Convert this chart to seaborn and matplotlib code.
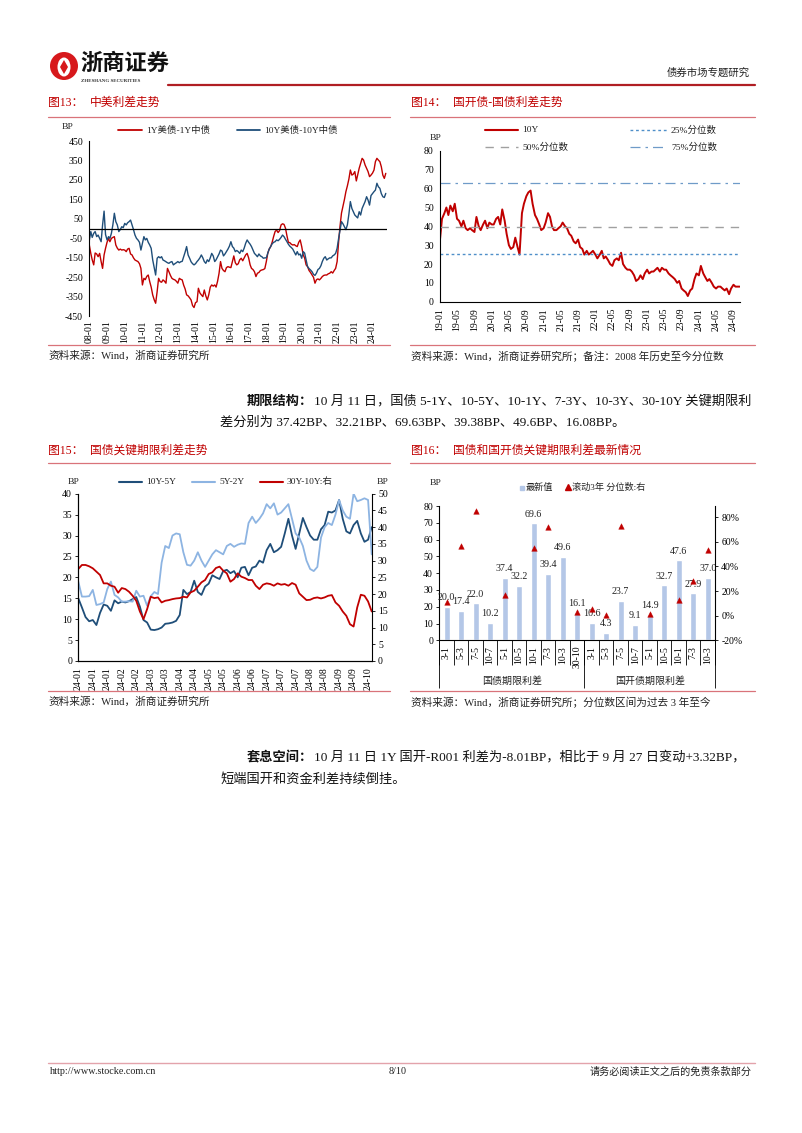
import numpy as np
import pandas as pd
import matplotlib
matplotlib.use('Agg')
import matplotlib.pyplot as plt
import seaborn as sns
from matplotlib.lines import Line2D
from matplotlib.patches import Ellipse, Polygon
import matplotlib.dates as mdates
import matplotlib.transforms as mtransforms
import matplotlib.ticker as mticker

# ---------------- data ----------------
# Fig 13: monthly, 2008-01 .. 2024-10
us_cn_1y = [
    -84, -127, -160, -186, -125, -130, -144, -127, -169, -204, -135, -101,
    -70, -50, -67, -50, -45, -41, -84, -100, -110, -105, -110, -108,
    -110, -118, -105, -101, -130, -135, -150, -161, -165, -169, -180, -204,
    -289, -255, -262, -245, -238, -272, -300, -340, -365, -383, -323, -255,
    -272, -275, -263, -270, -280, -204, -221, -240, -255, -260, -263, -270,
    -280, -255, -260, -263, -290, -310, -340, -345, -355, -366, -395, -405,
    -380, -375, -306, -330, -340, -349, -315, -345, -366, -340, -300, -289,
    -295, -289, -300, -270, -230, -169, -204, -215, -221, -200, -195, -198,
    -200, -169, -140, -175, -186, -180, -160, -152, -165, -150, -135, -127,
    -150, -186, -204, -210, -221, -246, -229, -225, -215, -212, -210, -205,
    -169, -125, -105, -92, -70, -40, -15, -7, -20, -10, 19, 25,
    22, 2, -35, -70, -72, -80, -84, -82, -88, -92, -70, -58,
    -92, -135, -150, -186, -195, -215, -225, -238, -250, -280, -262, -258,
    -263, -255, -246, -240, -238, -238, -232, -229, -221, -228, -215, -204,
    -169, -67, 10, 80, 115, 150, 190, 220, 255, 301, 275, 280,
    293, 245, 275, 310, 335, 361, 352, 327, 310, 293, 267, 275,
    285, 301, 344, 361, 352, 344, 318, 275, 258, 284]
us_cn_10y = [
    -60, -15, -45, -24, -15, -41, -33, -50, -67, 19, 90, -30,
    -58, -41, -50, -24, 19, 79, 36, 19, -15, -5, 10, 5,
    27, 19, 30, 36, 44, 19, -5, -33, -50, -58, -70, -110,
    -75, -41, -58, -50, -70, -84, -101, -160, -200, -238, -152, -144,
    -150, -144, -161, -165, -170, -175, -178, -172, -169, -186, -180, -175,
    -169, -175, -170, -168, -145, -120, -92, -135, -152, -170, -180, -186,
    -180, -169, -161, -150, -135, -150, -169, -178, -160, -169, -150, -127,
    -140, -169, -160, -145, -130, -110, -115, -140, -130, -118, -105, -90,
    -67, -92, -100, -118, -112, -118, -127, -110, -118, -100, -75, -58,
    -70, -80, -92, -110, -127, -135, -144, -130, -140, -144, -152, -150,
    -150, -125, -105, -92, -78, -70, -67, -58, -62, -55, -45, -33,
    -41, -55, -66, -80, -90, -97, -105, -120, -135, -118, -135, -130,
    -152, -118, -125, -160, -195, -205, -212, -221, -235, -240, -228, -210,
    -204, -190, -169, -152, -144, -161, -155, -150, -150, -140, -135, -127,
    -101, -50, -10, 36, 25, 10, -5, 20, 75, 139, 104, 87,
    70, 62, 55, 87, 70, 104, 121, 139, 164, 147, 121, 170,
    180, 190, 198, 233, 215, 207, 180, 164, 160, 181]

# Fig 14: semi-monthly, 2019-01 .. 2024-10
cdb_gov_10y = [
    33, 44, 47, 50, 46, 51, 48, 52, 44, 43, 40, 43, 39, 38, 39, 38, 37, 45, 40, 38, 41, 43, 39, 42,
    41, 41, 44, 45, 41, 49, 43, 36, 30, 28, 29, 34, 29, 25, 47, 52, 56, 58, 59, 52, 46, 44, 41, 38,
    39, 42, 47, 45, 40, 38, 38, 39, 40, 42, 40, 39, 36, 35, 32, 31, 33, 29, 28, 25, 27, 25, 26, 27,
    25, 23, 25, 27, 23, 24, 22, 20, 19, 22, 23, 22, 26, 20, 18, 17, 17, 16, 14, 11, 12, 14, 12, 15,
    17, 15, 16, 16, 17, 18, 16, 18, 17, 17, 15, 14, 13, 12, 10, 11, 7, 6, 5, 3, 6, 7, 12, 15,
    14, 19, 15, 13, 11, 12, 10, 8, 7, 8, 8, 7, 6, 7, 4, 7, 9, 8, 8, 8]
pct25, pct50, pct75 = 25.3, 39.6, 62.8

# Fig 15: 2024-01 .. 2024-10
tick_labels15 = ['24-01', '24-01', '24-01', '24-02', '24-02', '24-03', '24-03', '24-04', '24-04',
                 '24-05', '24-05', '24-06', '24-06', '24-07', '24-07', '24-07', '24-08', '24-08',
                 '24-09', '24-09', '24-10']
sp_10_5 = [15.0, 12.8, 10.5, 9.5, 9.8, 8.6, 11.5, 13.5, 13.2, 12.0,
           14.5, 13.8, 14.2, 14.0, 14.3, 14.8, 15.3, 13.0, 9.8, 9.2,
           7.5, 7.4, 7.6, 8.0, 8.9, 9.0, 9.2, 9.6, 11.0, 17.0,
           16.0, 16.5, 19.2, 16.5, 15.8, 17.8, 18.5, 20.5, 20.0, 19.6,
           21.5, 21.8, 21.0, 21.5, 20.0, 22.3, 22.5, 20.5, 22.3, 22.6,
           24.0, 23.5, 26.5, 28.0, 26.0, 26.5, 27.3, 30.5, 34.0, 30.0,
           26.8, 30.5, 34.2, 32.0, 30.0, 29.0, 29.0, 31.5, 32.5, 35.7,
           35.5, 36.0, 38.5, 34.0, 31.0, 30.5, 32.5, 33.5, 30.5, 28.5,
           29.0, 32.0]
sp_5_2 = [19.0, 15.4, 15.4, 15.5, 17.0, 13.4, 13.6, 14.0, 17.2, 19.0,
          15.8, 15.2, 14.2, 14.2, 14.3, 14.2, 16.8, 15.4, 15.6, 13.2,
          15.5, 16.5, 16.0, 23.5, 27.5, 27.0, 30.0, 30.5, 30.3, 26.0,
          23.0, 22.8, 24.0, 26.0, 24.0, 22.5, 24.0, 25.5, 26.5, 26.0,
          25.5, 27.5, 28.0, 27.3, 27.8, 28.1, 28.0, 33.0, 34.5, 33.0,
          34.0, 35.3, 37.5, 36.5, 37.7, 35.0, 35.5, 36.5, 37.5, 34.0,
          30.5, 29.5, 27.5, 24.0, 22.0, 21.5, 22.5, 29.5, 32.0, 33.0,
          32.5, 35.0, 38.5, 36.0, 34.5, 34.0, 40.0, 38.2, 38.5, 38.9,
          38.5, 25.5]
sp_30_10 = [27.5, 28.7, 28.7, 28.3, 27.7, 26.7, 25.7, 23.2, 23.2, 22.5,
            22.2, 20.4, 21.8, 21.5, 20.7, 19.5, 18.0, 14.8, 12.5, 15.5,
            19.2, 18.8, 19.0, 17.5, 18.0, 18.2, 18.5, 18.7, 18.8, 19.2,
            19.0, 20.5, 21.0, 22.2, 23.5, 24.2, 26.0, 26.5, 27.8, 28.2,
            27.0, 26.2, 23.7, 24.5, 26.2, 25.2, 24.8, 24.2, 24.2, 22.5,
            21.5, 22.8, 23.2, 23.0, 22.5, 23.2, 22.8, 23.0, 22.5, 23.3,
            22.8, 20.2, 19.2, 18.2, 18.3, 18.8, 19.0, 18.7, 19.0, 19.5,
            19.7, 17.5, 16.5, 14.8, 13.5, 11.0, 10.3, 16.0, 19.8, 19.5,
            17.8, 14.8]

# Fig 16
terms_gov = ['3-1', '5-3', '7-5', '10-7', '5-1', '10-5', '10-1', '7-3', '10-3', '30-10']
terms_cdb = ['3-1', '5-3', '7-5', '10-7', '5-1', '10-5', '10-1', '7-3', '10-3']
latest_gov = [20.0, 17.4, 22.0, 10.2, 37.4, 32.2, 69.6, 39.4, 49.6, 16.1]
latest_cdb = [10.6, 4.3, 23.7, 9.1, 14.9, 32.7, 47.6, 27.9, 37.0]
pctl_gov = [11.4, 56.5, 84.9, np.nan, 17.0, np.nan, 54.9, 71.6, np.nan, 2.7]
pctl_cdb = [5.7, 0.5, 72.7, np.nan, 1.6, np.nan, 12.4, 28.4, 53.0]

# ---------------- style ----------------
sns.set_style('white')
plt.rcParams['font.family'] = ['Liberation Serif', 'Noto Sans CJK SC', 'DejaVu Sans']
plt.rcParams['axes.unicode_minus'] = False

RED = '#C00000'
NAVY = '#1F4E79'
LBLUE = '#8DB4E2'
BARC = '#B4C7E7'
RULE = '#D9737A'
TXT = '#222222'

W, H = 802, 1133
fig = plt.figure(figsize=(W / 100, H / 100), dpi=100)
fig.patch.set_facecolor('white')


def fx(x):
    return x / W


def fy(y):
    return 1 - y / H


def px_axes(l, t, r, b):
    return fig.add_axes([fx(l), fy(b), (r - l) / W, (b - t) / H])


def T(x, y, s, **kw):
    kw.setdefault('va', 'center')
    kw.setdefault('color', TXT)
    return fig.text(fx(x), fy(y), s, **kw)


def hline(x0, x1, y, **kw):
    fig.add_artist(Line2D([fx(x0), fx(x1)], [fy(y), fy(y)], transform=fig.transFigure, **kw))


LEG_FS = 6.8


def leg_line(x0, x1, y, text, fs=LEG_FS, **kw):
    hline(x0, x1, y, **kw)
    T(x1 + 4, y, text, fontsize=fs)


TICK_FS = 7


def style_axes(ax, left=True, bottom=True, right=False):
    for s in ['top', 'right', 'bottom', 'left']:
        ax.spines[s].set_visible(False)
    for s, on in (('left', left), ('bottom', bottom), ('right', right)):
        if on:
            ax.spines[s].set_visible(True)
            ax.spines[s].set_color('black')
            ax.spines[s].set_linewidth(0.8)
    ax.tick_params(axis='both', labelsize=TICK_FS, colors='black', length=2.5, width=0.6, pad=2,
                   direction='out')
    ax.set_xlabel('')
    ax.set_ylabel('')
    ax.grid(False)
    ax.set_facecolor('none')


def title(x, y, num, text):
    T(x, y, num, fontsize=8.5, color=RED)
    T(x + 42, y, text, fontsize=8.5, color=RED)


# ---------------- header ----------------
fig.add_artist(Ellipse((fx(64), fy(66)), 28 / W, 28 / H, transform=fig.transFigure,
                       facecolor='#D7191C', edgecolor='none'))
fig.add_artist(Ellipse((fx(64), fy(67)), 13 / W, 19 / H, transform=fig.transFigure,
                       facecolor='white', edgecolor='none'))
fig.add_artist(Polygon([(fx(64), fy(60)), (fx(68), fy(67)), (fx(64), fy(74)), (fx(60), fy(67))],
                       closed=True, transform=fig.transFigure, facecolor='#D7191C', edgecolor='none'))
T(80, 63, '浙商证券', fontsize=16, fontweight='bold', family=['Noto Sans CJK SC'], color='#111111')
T(81, 80.5, 'ZHESHANG SECURITIES', fontsize=3.6, fontweight='bold', color='#333333')
hline(168, 755, 85, color='#B01E23', lw=1.6)
T(750, 73, '债券市场专题研究', fontsize=7.5, ha='right')

# section titles and rules
title(48, 103, '图13：', '中美利差走势')
title(411, 103, '图14：', '国开债-国债利差走势')
hline(48, 390, 117, color=RULE, lw=0.9)
hline(410, 755, 117, color=RULE, lw=0.9)
hline(48, 390, 345, color=RULE, lw=0.9)
hline(410, 755, 345, color=RULE, lw=0.9)
T(48, 356, '资料来源：Wind，浙商证券研究所', fontsize=7.7)
T(411, 356, '资料来源：Wind，浙商证券研究所；备注：2008 年历史至今分位数', fontsize=7.7)

title(48, 451, '图15：', '国债关键期限利差走势')
title(411, 451, '图16：', '国债和国开债关键期限利差最新情况')
hline(48, 390, 463, color=RULE, lw=0.9)
hline(410, 755, 463, color=RULE, lw=0.9)
hline(48, 390, 691, color=RULE, lw=0.9)
hline(410, 755, 691, color=RULE, lw=0.9)
T(48, 702, '资料来源：Wind，浙商证券研究所', fontsize=7.7)
T(411, 702, '资料来源：Wind，浙商证券研究所；分位数区间为过去 3 年至今', fontsize=7.7)

# ---------------- Fig 13 ----------------
ax13 = px_axes(89.3, 141, 386.7, 316.3)
dates13 = pd.date_range('2008-01-01', periods=len(us_cn_1y), freq='MS')
sns.lineplot(x=dates13, y=us_cn_1y, ax=ax13, color=RED, lw=1.0)
sns.lineplot(x=dates13, y=us_cn_10y, ax=ax13, color=NAVY, lw=1.0)
ax13.axhline(0, color='black', lw=0.9)
ax13.set_ylim(-450, 450)
ax13.set_yticks(np.arange(-450, 451, 100))
ax13.set_xlim(pd.Timestamp('2008-01-01'), pd.Timestamp('2024-10-20'))
ax13.xaxis.set_major_locator(mdates.YearLocator())
ax13.xaxis.set_major_formatter(mdates.DateFormatter('%y-%m'))
style_axes(ax13, left=True, bottom=False)
ax13.tick_params(axis='x', length=0, rotation=90, pad=3)
T(62, 127, 'BP', fontsize=LEG_FS)
leg_line(118, 142, 130, '1Y美债-1Y中债', color=RED, lw=1.3)
leg_line(237, 260, 130, '10Y美债-10Y中债', color=NAVY, lw=1.3)

# ---------------- Fig 14 ----------------
ax14 = px_axes(440, 151, 740, 301.7)
dates14 = pd.date_range('2019-01-01', periods=len(cdb_gov_10y), freq='SMS')
sns.lineplot(x=dates14, y=cdb_gov_10y, ax=ax14, color=RED, lw=1.4)
ax14.axhline(pct25, color='#4F8FC9', lw=1.0, ls=(0, (2, 2)))
ax14.axhline(pct50, color='#A0A0A0', lw=1.0, ls=(0, (6, 5)))
ax14.axhline(pct75, color='#6F9BC8', lw=0.9, ls=(0, (8, 4, 2, 4)))
ax14.set_ylim(0, 80)
ax14.set_yticks(np.arange(0, 81, 10))
ax14.set_xlim(pd.Timestamp('2019-01-01'), pd.Timestamp('2024-10-17'))
ax14.xaxis.set_major_locator(mdates.MonthLocator(bymonth=[1, 5, 9]))
ax14.xaxis.set_major_formatter(mdates.DateFormatter('%y-%m'))
style_axes(ax14)
ax14.tick_params(axis='x', rotation=90)
T(430, 138, 'BP', fontsize=LEG_FS)
leg_line(485, 518, 130, '10Y', color=RED, lw=1.5)
leg_line(630, 667, 130, '25%分位数', color='#4F8FC9', lw=1.0, ls=(0, (2, 2)))
leg_line(485, 518, 147, '50%分位数', color='#A0A0A0', lw=1.0, ls=(0, (6, 5)))
leg_line(630, 667, 147, '75%分位数', color='#6F9BC8', lw=0.9, ls=(0, (8, 4, 2, 4)))

# ---------------- Fig 15 ----------------
ax15 = px_axes(78.3, 493.7, 371.7, 661)
idx15 = np.arange(len(sp_10_5))
sns.lineplot(x=idx15, y=sp_10_5, ax=ax15, color=NAVY, lw=1.3)
sns.lineplot(x=idx15, y=sp_5_2, ax=ax15, color=LBLUE, lw=1.3)
ax15.set_ylim(0, 40)
ax15.set_yticks(np.arange(0, 41, 5))
ax15.set_xlim(0, 81)
ax15.set_xticks(np.arange(0, 81, 4))
ax15.set_xticklabels(tick_labels15)
style_axes(ax15)
ax15.tick_params(axis='x', rotation=90)
ax15r = ax15.twinx()
sns.lineplot(x=idx15, y=sp_30_10, ax=ax15r, color=RED, lw=1.3)
ax15r.set_ylim(0, 50)
ax15r.set_yticks(np.arange(0, 51, 5))
ax15r.set_xlim(0, 81)
style_axes(ax15r, left=True, bottom=True, right=True)
ax15r.tick_params(axis='x', length=0, labelbottom=False)
T(68, 482, 'BP', fontsize=LEG_FS)
T(377, 482, 'BP', fontsize=LEG_FS)
leg_line(119, 142, 482, '10Y-5Y', color=NAVY, lw=1.5)
leg_line(192, 215, 482, '5Y-2Y', color=LBLUE, lw=1.5)
leg_line(260, 283, 482, '30Y-10Y:右', color=RED, lw=1.5)

# ---------------- Fig 16 ----------------
ax16 = px_axes(439.3, 506, 715, 640.3)
keys16 = ['国债' + t for t in terms_gov] + ['国开' + t for t in terms_cdb]
vals16 = latest_gov + latest_cdb
pct16 = pctl_gov + pctl_cdb
labels16 = terms_gov + terms_cdb
df16 = pd.DataFrame({'key': keys16, 'val': vals16, 'pct': pct16})
sns.barplot(data=df16, x='key', y='val', ax=ax16, color=BARC, width=0.42, saturation=1)
ax16.bar_label(ax16.containers[0], labels=[f'{v:.1f}' for v in vals16], padding=3.5,
               fontsize=7.2, color=TXT)
ax16.set_ylim(0, 80)
ax16.set_yticks(np.arange(0, 81, 10))
ax16.set_xlim(-0.5, len(keys16) - 0.5)
ax16.set_xticks(np.arange(len(keys16)))
ax16.set_xticklabels(labels16)
style_axes(ax16)
ax16.tick_params(axis='x', rotation=90, length=0, pad=4)
ax16r = ax16.twinx()
sns.scatterplot(x=np.arange(len(keys16)), y=df16['pct'], ax=ax16r, marker='^', color=RED,
                s=16, edgecolor=RED, linewidth=0.3, zorder=5)
ax16r.set_ylim(-20, 89)
ax16r.set_yticks(np.arange(-20, 81, 20))
ax16r.yaxis.set_major_formatter(mticker.FuncFormatter(lambda v, p: f'{v:.0f}%'))
ax16r.set_xlim(-0.5, len(keys16) - 0.5)
style_axes(ax16r, left=False, bottom=False, right=True)
trans16 = mtransforms.blended_transform_factory(ax16.transData, ax16.transAxes)
ax16.vlines(np.arange(-0.5, len(keys16)), -0.185, 0, transform=trans16, clip_on=False,
            color='black', lw=0.6)
ax16.vlines([-0.5, len(terms_gov) - 0.5, len(keys16) - 0.5], -0.355, 0, transform=trans16,
            clip_on=False, color='black', lw=0.6)
ax16.text((len(terms_gov) - 1) / 2, -0.30, '国债期限利差', transform=trans16, ha='center',
          va='center', fontsize=7.2, color=TXT)
ax16.text(len(terms_gov) + (len(terms_cdb) - 1) / 2, -0.30, '国开债期限利差', transform=trans16,
          ha='center', va='center', fontsize=7.2, color=TXT)
T(430, 483, 'BP', fontsize=LEG_FS)
fig.add_artist(Line2D([fx(521.5)], [fy(487.7)], marker='s', markersize=3.5, color=BARC,
                      transform=fig.transFigure, linestyle='none'))
T(525.5, 487.7, '最新值', fontsize=6.6)
fig.add_artist(Line2D([fx(568)], [fy(487.2)], marker='^', markersize=4.2, color=RED,
                      transform=fig.transFigure, linestyle='none'))
T(572, 487.7, '滚动3年 分位数:右', fontsize=6.6)

# ---------------- body text ----------------
renderer = fig.canvas.get_renderer()
BODY_FS = 9.5


def para(x, y, bold, rest, fs=BODY_FS):
    t = T(x, y, bold, fontsize=fs, fontweight='bold', family=['Noto Sans CJK SC'], color='#111111')
    bb = t.get_window_extent(renderer=renderer)
    T(bb.x1 + 1, y, rest, fontsize=fs, color='#111111')


para(247, 401, '期限结构：', '10 月 11 日，国债 5-1Y、10-5Y、10-1Y、7-3Y、10-3Y、30-10Y 关键期限利')
T(220, 423, '差分别为 37.42BP、32.21BP、69.63BP、39.38BP、49.6BP、16.08BP。', fontsize=BODY_FS,
  color='#111111')
para(247, 757, '套息空间：', '10 月 11 日 1Y 国开-R001 利差为-8.01BP，相比于 9 月 27 日变动+3.32BP，')
T(220, 779, '短端国开和资金利差持续倒挂。', fontsize=BODY_FS, color='#111111')

# ---------------- footer ----------------
hline(48, 755, 1063, color='#E3A3AB', lw=1.0)
T(50, 1072, 'http://www.stocke.com.cn', fontsize=7.3)
T(398, 1072, '8/10', fontsize=7.3, ha='center')
T(752, 1072, '请务必阅读正文之后的免责条款部分', fontsize=7.3, ha='right')

fig.savefig('out.png', dpi=100, facecolor='white')
